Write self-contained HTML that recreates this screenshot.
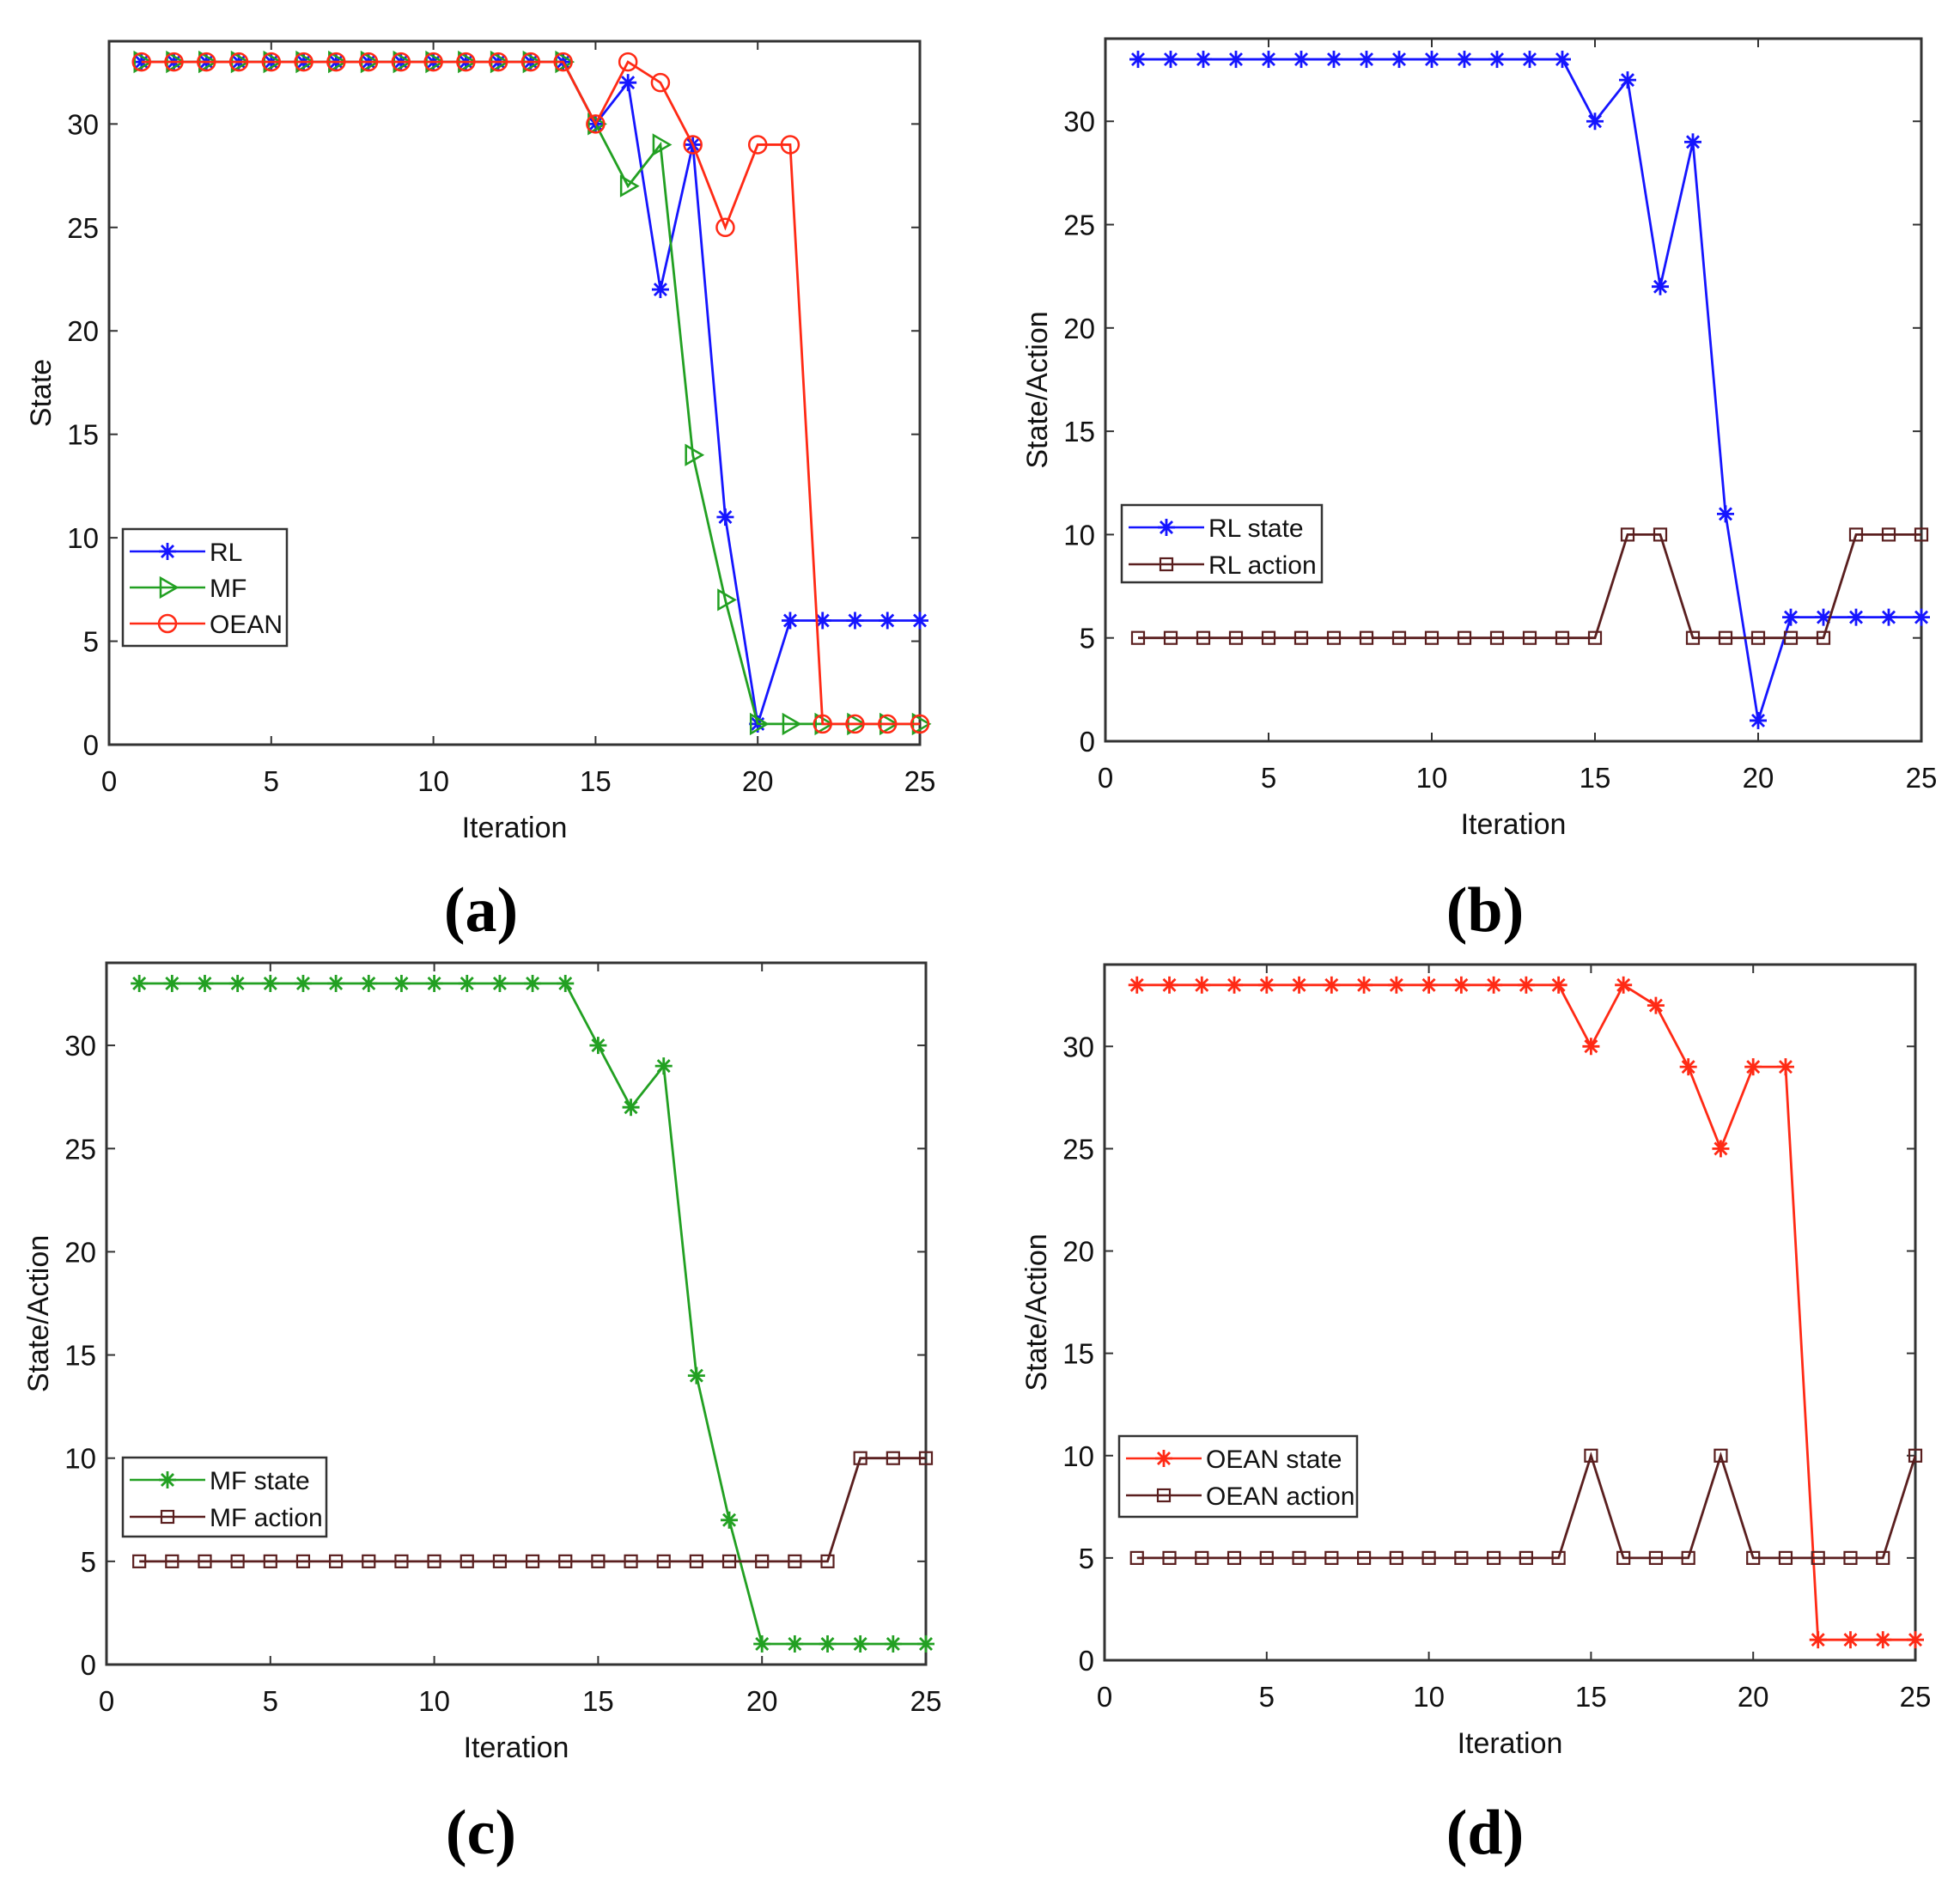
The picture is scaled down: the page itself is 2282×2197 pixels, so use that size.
<!DOCTYPE html>
<html><head><meta charset="utf-8"><style>
html,body{margin:0;padding:0;background:#fff;}
svg{display:block;font-family:"Liberation Sans",Arial,sans-serif;}
</style></head><body>
<svg id="fig" width="2282" height="2197" viewBox="0 0 2282 2197" xmlns="http://www.w3.org/2000/svg"></svg>
<script>
const iterations = [1,2,3,4,5,6,7,8,9,10,11,12,13,14,15,16,17,18,19,20,21,22,23,24,25];
const rlState   = [33,33,33,33,33,33,33,33,33,33,33,33,33,33,30,32,22,29,11,1,6,6,6,6,6];
const mfState   = [33,33,33,33,33,33,33,33,33,33,33,33,33,33,30,27,29,14,7,1,1,1,1,1,1];
const oeanState = [33,33,33,33,33,33,33,33,33,33,33,33,33,33,30,33,32,29,25,29,29,1,1,1,1];
const rlAction   = [5,5,5,5,5,5,5,5,5,5,5,5,5,5,5,10,10,5,5,5,5,5,10,10,10];
const mfAction   = [5,5,5,5,5,5,5,5,5,5,5,5,5,5,5,5,5,5,5,5,5,5,10,10,10];
const oeanAction = [5,5,5,5,5,5,5,5,5,5,5,5,5,5,10,5,5,5,10,5,5,5,5,5,10];
const xTicks = [0,5,10,15,20,25];
const yTicks = [0,5,10,15,20,25,30];

const NS='http://www.w3.org/2000/svg';
const svg=document.getElementById('fig');
function mk(tag,attrs,parent){const e=document.createElementNS(NS,tag);for(const k in attrs)e.setAttribute(k,attrs[k]);(parent||svg).appendChild(e);return e;}

const C={blue:'#1515ff',green:'#22a022',red:'#ff2a15',brown:'#5a1f1f'};

function marker(g,type,x,y,color){
  let m;
  if(type==='star'){
    m=mk('g',{stroke:color,'stroke-width':2.8,fill:'none'},g);
    const r=10;
    mk('line',{x1:x-r,y1:y,x2:x+r,y2:y},m);
    mk('line',{x1:x,y1:y-r,x2:x,y2:y+r},m);
    mk('line',{x1:x-7,y1:y-7,x2:x+7,y2:y+7},m);
    mk('line',{x1:x-7,y1:y+7,x2:x+7,y2:y-7},m);
  } else if(type==='tri'){
    m=mk('polygon',{points:`${x-8},${y-11} ${x+11},${y} ${x-8},${y+11}`,stroke:color,'stroke-width':2.5,fill:'none'},g);
  } else if(type==='circ'){
    m=mk('circle',{cx:x,cy:y,r:10,stroke:color,'stroke-width':2.5,fill:'none'},g);
  } else {
    m=mk('rect',{x:x-7,y:y-7,width:14,height:14,stroke:color,'stroke-width':2.2,fill:'none'},g);
  }
  
  
}

function panel(p){
  const g=mk('g',{});
  
  
  const sx=v=>p.l+(v-0)/25*(p.r-p.l);
  const sy=v=>p.b-(v-0)/34*(p.b-p.t);
  xTicks.forEach(v=>{
    const x=sx(v);
    mk('line',{x1:x,y1:p.b,x2:x,y2:p.b-10,stroke:'#333','stroke-width':2},g);
    mk('line',{x1:x,y1:p.t,x2:x,y2:p.t+10,stroke:'#333','stroke-width':2},g);
    const t=mk('text',{x:x,y:p.b+54,'font-size':33,'text-anchor':'middle',fill:'#111'},g);
    t.textContent=v;
    
    
  });
  yTicks.forEach(v=>{
    const y=sy(v);
    mk('line',{x1:p.l,y1:y,x2:p.l+10,y2:y,stroke:'#333','stroke-width':2},g);
    mk('line',{x1:p.r,y1:y,x2:p.r-10,y2:y,stroke:'#333','stroke-width':2},g);
    const t=mk('text',{x:p.l-12,y:y+12,'font-size':33,'text-anchor':'end',fill:'#111'},g);
    t.textContent=v;
    
    
  });
  const box=mk('rect',{x:p.l,y:p.t,width:p.r-p.l,height:p.b-p.t,fill:'none',stroke:'#333','stroke-width':3},g);
  
  
  p.series.forEach(s=>{
    const sg=mk('g',{},g);
    
    
    const pts=iterations.map((it,i)=>sx(it)+','+sy(s.data[i])).join(' ');
    mk('polyline',{points:pts,fill:'none',stroke:s.color,'stroke-width':2.8},sg);
    iterations.forEach((it,i)=>marker(sg,s.mk,sx(it),sy(s.data[i]),s.color));
  });
  const xt=mk('text',{x:(p.l+p.r)/2,y:p.b+108,'font-size':34,'text-anchor':'middle',fill:'#111'},g);
  xt.textContent='Iteration';
  
  
  const yx=p.l-68, yy=(p.t+p.b)/2;
  const yt=mk('text',{x:yx,y:yy,'font-size':34,'text-anchor':'middle',fill:'#111',transform:`rotate(-90 ${yx} ${yy})`},g);
  yt.textContent=p.ytitle;
  
  
  const L=p.leg;
  const lg=mk('g',{},g);
  
  
  mk('rect',{x:L.x,y:L.y,width:L.w,height:L.h,fill:'#fff',stroke:'#333','stroke-width':2.5},lg);
  p.series.forEach((s,i)=>{
    const ry=L.y+26+i*L.step;
    const eg=mk('g',{},lg);
    
    
    mk('line',{x1:L.x+8,y1:ry,x2:L.x+96,y2:ry,stroke:s.color,'stroke-width':2.5},eg);
    marker(eg,s.mk,L.x+52,ry,s.color);
    const t=mk('text',{x:L.x+101,y:ry+11,'font-size':30,fill:'#111'},eg);
    t.textContent=s.name;
  });
  const cap=mk('text',{x:p.capx,y:p.capy,'font-size':74,'font-weight':'bold','text-anchor':'middle',fill:'#000','font-family':'"Liberation Serif",serif'},g);
  cap.textContent=p.cap;
  
  
}

panel({id:'a',l:127,r:1071,t:48,b:867,ytitle:'State',cap:'(a)',capx:560,capy:1084,
  leg:{x:143,y:616,w:191,h:136,step:42},
  series:[{name:'RL',data:rlState,color:C.blue,mk:'star'},
          {name:'MF',data:mfState,color:C.green,mk:'tri'},
          {name:'OEAN',data:oeanState,color:C.red,mk:'circ'}]});
panel({id:'b',l:1287,r:2237,t:45,b:863,ytitle:'State/Action',cap:'(b)',capx:1729,capy:1084,
  leg:{x:1306,y:588,w:233,h:90,step:43},
  series:[{name:'RL state',data:rlState,color:C.blue,mk:'star'},
          {name:'RL action',data:rlAction,color:C.brown,mk:'sq'}]});
panel({id:'c',l:124,r:1078,t:1121,b:1938,ytitle:'State/Action',cap:'(c)',capx:560,capy:2158,
  leg:{x:143,y:1697,w:237,h:92,step:43},
  series:[{name:'MF state',data:mfState,color:C.green,mk:'star'},
          {name:'MF action',data:mfAction,color:C.brown,mk:'sq'}]});
panel({id:'d',l:1286,r:2230,t:1123,b:1933,ytitle:'State/Action',cap:'(d)',capx:1729,capy:2158,
  leg:{x:1303,y:1672,w:277,h:94,step:43},
  series:[{name:'OEAN state',data:oeanState,color:C.red,mk:'star'},
          {name:'OEAN action',data:oeanAction,color:C.brown,mk:'sq'}]});
</script>
</body></html>
